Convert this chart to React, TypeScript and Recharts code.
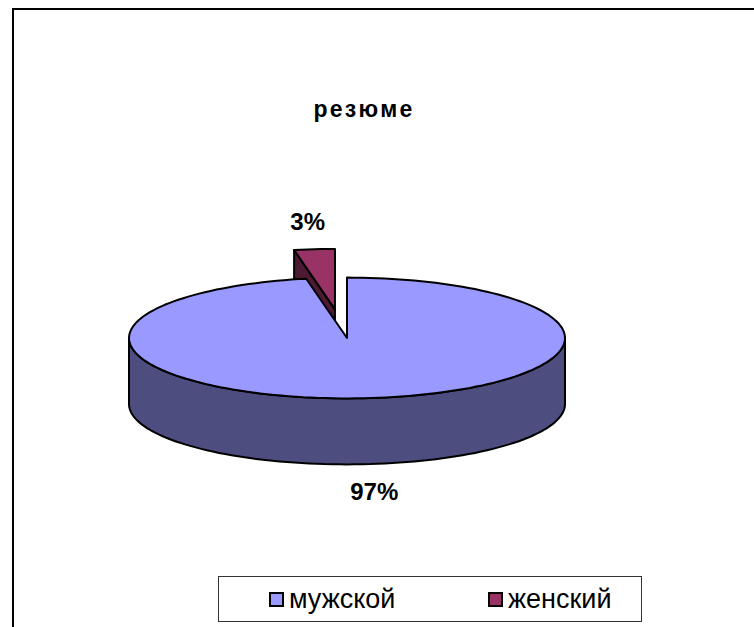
import React from 'react';
import { PieChart, Pie, Cell } from 'recharts';

const chartTitle = 'резюме';
const categories = ['мужской', 'женский'];
const shares = [97, 3];

const topColors = ['#9999ff', '#993366'];
const sideColors = ['#4d4d80', '#4d1a33'];
// how far a slice is pulled out of the pie
const explodeBy: Record<string, number> = { 'женский': 80 };

const W = 754;
const H = 627;
const CX = 347;
const CY = 338;
const R = 218;
const TILT = 0.277; // vertical squash of the top face
const DEPTH = 66;
const FONT = '"Liberation Sans", Arial, sans-serif';

// back slice first, so the big slice covers its wall
const pieData = categories.map((name, i) => ({ name, value: shares[i], idx: i })).reverse();

const rad = (d: number) => (d * Math.PI) / 180;

const offsetFor = (name: string, mid: number) => {
  const d = explodeBy[name] || 0;
  return [Math.cos(rad(mid)) * d * 1.6, -Math.sin(rad(mid)) * d * 0.36];
};

const arc = (x0: number, y0: number, rx: number, ry: number, a0: number, a1: number, dy = 0) => {
  const n = Math.max(2, Math.ceil(Math.abs(a1 - a0) / 2));
  const pts: string[] = [];
  for (let i = 0; i <= n; i++) {
    const a = rad(a0 + ((a1 - a0) * i) / n);
    pts.push(`${(x0 + rx * Math.cos(a)).toFixed(1)},${(y0 - ry * Math.sin(a) + dy).toFixed(1)}`);
  }
  return pts;
};

const Slice3D = (props: any) => {
  const { cx, cy, outerRadius, startAngle, endAngle, name } = props;
  const idx = props.idx ?? props.payload?.idx ?? 0;
  const a0 = Math.min(startAngle, endAngle);
  const a1 = Math.max(startAngle, endAngle);
  const [ox, oy] = offsetFor(name, (a0 + a1) / 2);
  const x0 = cx + ox;
  const y0 = cy + oy;
  const rx = outerRadius;
  const ry = outerRadius * TILT;
  const stroke = { stroke: '#000', strokeWidth: 2, strokeLinejoin: 'round' as const };

  const walls: string[] = [];
  const edge = (a: number) => {
    const px = x0 + rx * Math.cos(rad(a));
    const py = y0 - ry * Math.sin(rad(a));
    return `${x0},${y0} ${px},${py} ${px},${py + DEPTH} ${x0},${y0 + DEPTH}`;
  };
  if (Math.sin(rad(a1 + 90)) < -1e-6) walls.push(edge(a1));
  if (Math.sin(rad(a0 - 90)) < -1e-6) walls.push(edge(a0));
  for (const k of [-1, 0, 1]) {
    const lo = Math.max(a0, 180 + 360 * k);
    const hi = Math.min(a1, 360 + 360 * k);
    if (hi - lo > 0.01) {
      walls.push([...arc(x0, y0, rx, ry, lo, hi), ...arc(x0, y0, rx, ry, hi, lo, DEPTH)].join(' '));
    }
  }
  const top = `M${x0},${y0} L${arc(x0, y0, rx, ry, a0, a1).join(' L')} Z`;

  return (
    <g>
      {walls.map((p, i) => (
        <polygon key={i} points={p} fill={sideColors[idx]} {...stroke} />
      ))}
      <path d={top} fill={topColors[idx]} {...stroke} />
    </g>
  );
};

const renderLabel = (props: any) => {
  const { cx, cy, midAngle, outerRadius, percent, name } = props;
  const [ox, oy] = offsetFor(name, midAngle);
  const s = Math.sin(rad(midAngle));
  const x = cx + ox + Math.cos(rad(midAngle)) * outerRadius * 1.33;
  const y = cy + oy - s * outerRadius * 0.405 + (s < 0 ? DEPTH : 0);
  return (
    <text x={x} y={y} textAnchor="middle" dominantBaseline="central" fontFamily={FONT} fontWeight="bold" fontSize={24} fill="#000">
      {`${Math.round(percent * 100)}%`}
    </text>
  );
};

export default function App() {
  return (
    <div style={{ position: 'fixed', left: 0, top: 0, width: W, height: H, overflow: 'hidden', background: '#fff' }}>
      <div style={{ position: 'absolute', left: 12, top: 8, width: 780, height: 660, border: '2px solid #000' }} />
      <PieChart width={W} height={H} margin={{ top: 0, right: 0, bottom: 0, left: 0 }} style={{ position: 'absolute', left: 0, top: 0 }}>
        <Pie
          data={pieData}
          dataKey="value"
          nameKey="name"
          cx={CX}
          cy={CY}
          outerRadius={R}
          startAngle={90}
          endAngle={450}
          stroke="none"
          shape={Slice3D}
          activeShape={Slice3D}
          inactiveShape={Slice3D}
          label={renderLabel}
          labelLine={false}
          isAnimationActive={false}
        >
          {pieData.map((d) => (
            <Cell key={d.name} fill={topColors[d.idx]} />
          ))}
        </Pie>
      </PieChart>
      <div style={{ position: 'absolute', left: 264, top: 95, width: 200, textAlign: 'center', fontFamily: FONT, fontWeight: 'bold', fontSize: 23, letterSpacing: 2.3, lineHeight: '28px' }}>
        {chartTitle}
      </div>
      <div style={{ position: 'absolute', left: 218, top: 576, width: 422, height: 44, border: '1.5px solid #333', fontFamily: FONT, fontSize: 27 }}>
        {categories.map((c, i) => (
          <React.Fragment key={c}>
            <div style={{ position: 'absolute', left: 50 + i * 219, top: 15, width: 11, height: 11, background: topColors[i], border: '2px solid #000' }} />
            <div style={{ position: 'absolute', left: 70 + i * 219, top: 0, lineHeight: '44px', color: '#000' }}>{c}</div>
          </React.Fragment>
        ))}
      </div>
    </div>
  );
}
